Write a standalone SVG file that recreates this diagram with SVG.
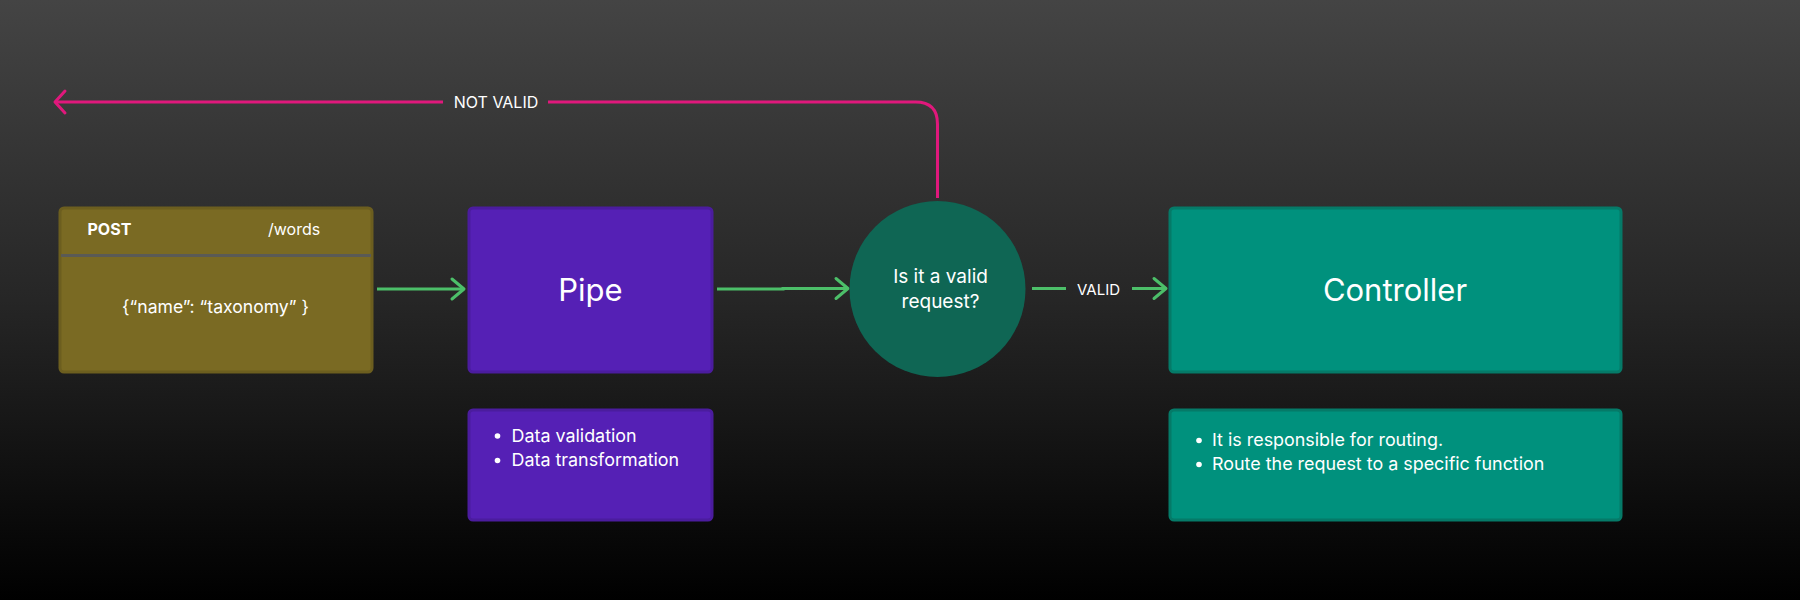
<svg xmlns="http://www.w3.org/2000/svg" width="1800" height="600" viewBox="0 0 1800 600">
<defs>
<linearGradient id="bg" x1="0" y1="0" x2="0" y2="1">
<stop offset="0" stop-color="#444444"/>
<stop offset="0.5" stop-color="#262626"/>
<stop offset="1" stop-color="#000000"/>
</linearGradient>
<marker id="ag" markerUnits="userSpaceOnUse" markerWidth="30" markerHeight="30" viewBox="0 0 30 30" refX="16" refY="15" orient="auto">
<path d="M4,5 L16,15 L4,25" fill="none" stroke="#4cbf69" stroke-width="3" stroke-linecap="round" stroke-linejoin="round"/>
</marker>
<marker id="am" markerUnits="userSpaceOnUse" markerWidth="30" markerHeight="30" viewBox="0 0 30 30" refX="16" refY="15" orient="auto">
<path d="M6,4 L16,15 L6,26" fill="none" stroke="#e0187c" stroke-width="3" stroke-linecap="round" stroke-linejoin="round"/>
</marker>
</defs>
<style>
text{font-family:Inter,"Liberation Sans",sans-serif;fill:#ffffff}
.g{fill:none;stroke:#4cbf69;stroke-width:3}
.m{fill:none;stroke:#e0187c;stroke-width:3}
.olive{fill:#7a6a23;stroke:#6c5e1f;stroke-width:3}
.purple{fill:#5520b5;stroke:#4b1c9e;stroke-width:3}
.teal{fill:#00917d;stroke:#057a68;stroke-width:3}
.big{font-size:31px;text-anchor:middle}
.body{font-size:17.9px}
.lbl{font-size:15px}
</style>
<rect x="0" y="0" width="1800" height="600" fill="url(#bg)"/>

<g id="connectors">
<path class="g" d="M377,289 L464,289" marker-end="url(#ag)"/>
<path class="g" d="M717,289 L783,289 L783,288.5 L848,288.5" marker-end="url(#ag)"/>
<path class="g" d="M1032,288.5 L1066,288.5"/>
<path class="g" d="M1132,288.5 L1166,288.5" marker-end="url(#ag)"/>
<path class="m" d="M937.5,198 L937.5,124 Q937.5,102 915.5,102 L548,102"/>
<path class="m" d="M443,102 L55,102" marker-end="url(#am)"/>
<text class="lbl" x="1098.5" y="295" text-anchor="middle">VALID</text>
<text x="496" y="107.5" font-size="16" text-anchor="middle">NOT VALID</text>
</g>

<g id="request">
<rect class="olive" x="60" y="208" width="312" height="164" rx="4"/>
<line x1="61" y1="255.5" x2="371" y2="255.5" stroke="#5a5a55" stroke-width="3"/>
<text x="87.5" y="235" font-size="16" font-weight="bold">POST</text>
<text x="268" y="235" font-size="16">/words</text>
<text x="215.5" y="313" font-size="17.6" text-anchor="middle">{“name”: “taxonomy” }</text>
</g>

<g id="pipe">
<rect class="purple" x="469" y="208" width="243" height="164" rx="4"/>
<text class="big" x="590.5" y="301">Pipe</text>
</g>

<g id="decision">
<circle cx="937.5" cy="289" r="88" fill="#0f6654"/>
<text x="940.5" y="283" font-size="19" text-anchor="middle">Is it a valid</text>
<text x="940.5" y="307.5" font-size="19" text-anchor="middle">request?</text>
</g>

<g id="controller">
<rect class="teal" x="1170" y="208" width="451" height="164" rx="4"/>
<text class="big" x="1395" y="301">Controller</text>
</g>

<g id="pipe-notes">
<rect class="purple" x="469" y="410" width="243" height="110" rx="4"/>
<circle cx="497.5" cy="436" r="2.8" fill="#ffffff"/>
<circle cx="497.5" cy="460.5" r="2.8" fill="#ffffff"/>
<text class="body" x="511.5" y="441.5">Data validation</text>
<text class="body" x="511.5" y="466">Data transformation</text>
</g>

<g id="controller-notes">
<rect class="teal" x="1170" y="410" width="451" height="110" rx="4"/>
<circle cx="1199" cy="440.5" r="2.8" fill="#ffffff"/>
<circle cx="1199" cy="464.5" r="2.8" fill="#ffffff"/>
<text class="body" x="1212" y="446">It is responsible for routing.</text>
<text class="body" x="1212" y="470">Route the request to a specific function</text>
</g>
</svg>
